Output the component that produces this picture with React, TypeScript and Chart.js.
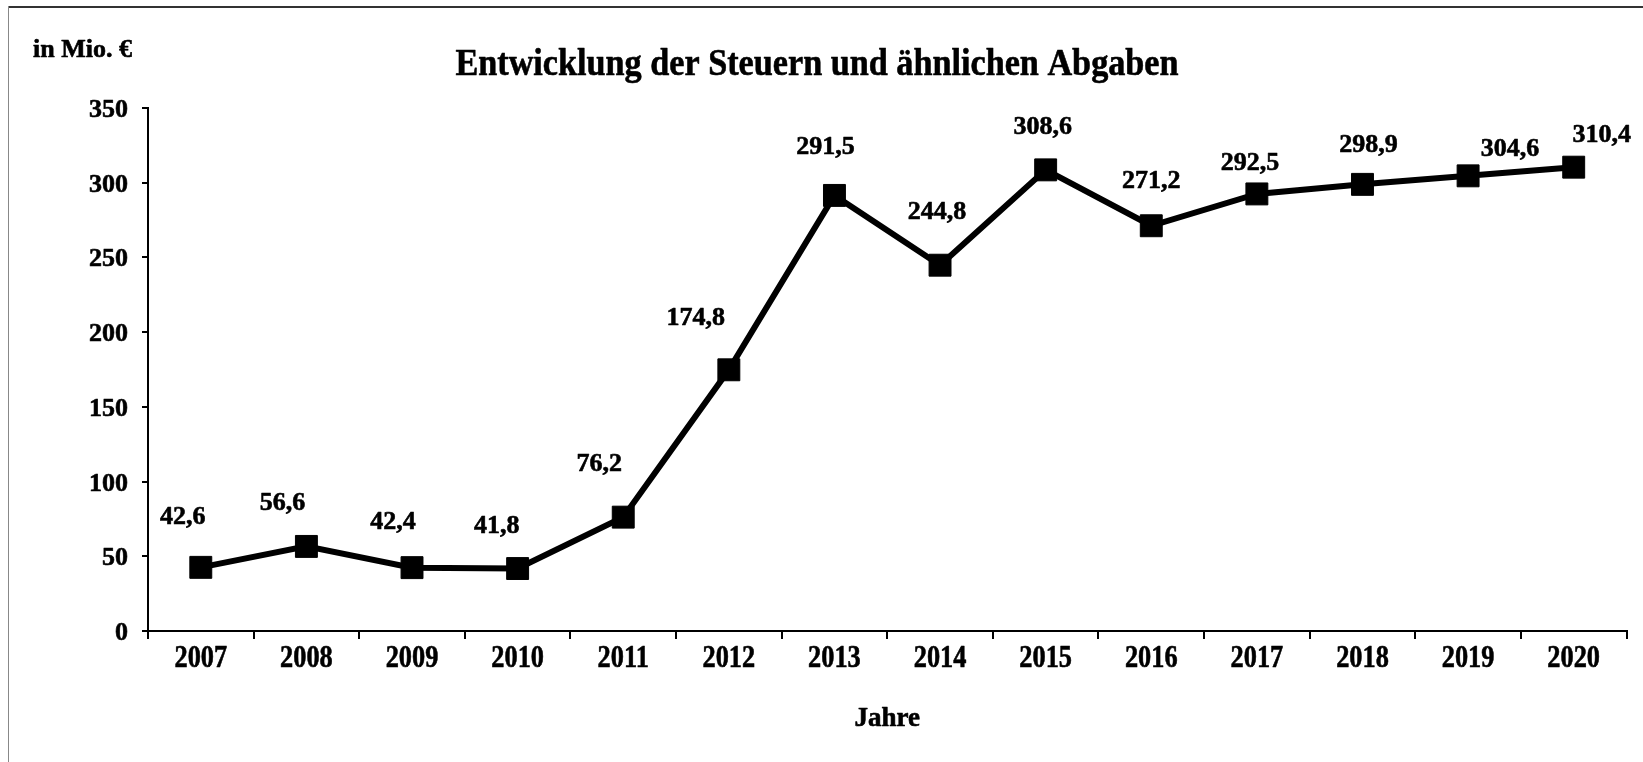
import React, { useEffect, useRef } from "react";
import { Chart, registerables } from "chart.js";

Chart.register(...registerables);

const years: string[] = ["2007", "2008", "2009", "2010", "2011", "2012", "2013", "2014", "2015", "2016", "2017", "2018", "2019", "2020"];
const taxes: number[] = [42.6, 56.6, 42.4, 41.8, 76.2, 174.8, 291.5, 244.8, 308.6, 271.2, 292.5, 298.9, 304.6, 310.4];
const yTicks: number[] = [0, 50, 100, 150, 200, 250, 300, 350];
const titleText = "Entwicklung der Steuern und ähnlichen Abgaben";
const unitText = "in Mio. €";
const xTitleText = "Jahre";

// label nudges (style): [dx, dy] relative to the point centre
const labelNudge: [number, number][] = [
  [-18, -52], [-24, -45], [-19, -48], [-21, -45], [-24, -55], [-33, -54], [-9, -50],
  [-3, -55], [-3, -45], [0, -47], [-7, -33], [6, -41], [42, -29], [28, -34],
];

const FONT = "'Liberation Serif', 'Times New Roman', serif";

const fmt = (v: number) => v.toFixed(1).replace(".", ",");

function heavyText(ctx: CanvasRenderingContext2D, text: string, x: number, y: number) {
  ctx.fillText(text, x, y);
  ctx.strokeText(text, x, y);
}

const decorPlugin = {
  id: "decor",
  afterDraw(chart: any) {
    const ctx = chart.ctx as CanvasRenderingContext2D;
    const xScale = chart.scales.x;
    const yScale = chart.scales.y;
    const area = chart.chartArea;
    ctx.save();
    // frame
    ctx.fillStyle = "#333";
    ctx.fillRect(8, 6, chart.width - 8, 2);
    ctx.fillStyle = "#888";
    ctx.fillRect(8, 6, 1, chart.height - 6);

    ctx.fillStyle = "#000";
    ctx.strokeStyle = "#000";
    ctx.lineWidth = 0.6;
    ctx.lineJoin = "round";
    // title (condensed)
    ctx.font = `bold 38px ${FONT}`;
    ctx.textAlign = "center";
    ctx.textBaseline = "alphabetic";
    ctx.save();
    ctx.translate(817, 75);
    ctx.scale(0.9, 1);
    heavyText(ctx, titleText, 0, 0);
    ctx.restore();

    // unit label
    ctx.font = `bold 26px ${FONT}`;
    ctx.textAlign = "left";
    heavyText(ctx, unitText, 33, 57);

    // y tick labels
    ctx.font = `bold 26px ${FONT}`;
    ctx.textAlign = "right";
    yTicks.forEach((v) => {
      const y = yScale.getPixelForValue(v);
      heavyText(ctx, String(v), area.left - 20, y + 9);
    });

    // x tick labels (condensed)
    ctx.font = `bold 31px ${FONT}`;
    ctx.textAlign = "center";
    years.forEach((yr, i) => {
      const x = xScale.getPixelForValue(i);
      ctx.save();
      ctx.translate(x, area.bottom + 36);
      ctx.scale(0.85, 1);
      heavyText(ctx, yr, 0, 0);
      ctx.restore();
    });

    // x axis title
    ctx.font = `bold 27px ${FONT}`;
    heavyText(ctx, xTitleText, (area.left + area.right) / 2, area.bottom + 95);

    // data labels
    const meta = chart.getDatasetMeta(0);
    ctx.font = `bold 26px ${FONT}`;
    meta.data.forEach((pt: any, i: number) => {
      const [dx, dy] = labelNudge[i];
      heavyText(ctx, fmt(taxes[i]), pt.x + dx, pt.y + dy + 9);
    });
    ctx.restore();
  },
};

export default function App() {
  const ref = useRef<HTMLCanvasElement | null>(null);
  useEffect(() => {
    if (!ref.current) return;
    const chart = new Chart(ref.current, {
      type: "line",
      data: {
        labels: years,
        datasets: [
          {
            data: taxes,
            borderColor: "#000",
            backgroundColor: "#000",
            borderWidth: 6,
            pointStyle: "rect",
            pointRadius: 15.5,
            pointBorderWidth: 1,
            pointBackgroundColor: "#000",
            pointBorderColor: "#000",
            tension: 0,
            clip: false as any,
          },
        ],
      },
      options: {
        responsive: false,
        animation: false,
        layout: { padding: { top: 108, right: 16, left: 0, bottom: 0 } },
        plugins: {
          legend: { display: false },
          tooltip: { enabled: false },
          title: { display: false },
        },
        scales: {
          x: {
            offset: true,
            afterFit: (s: any) => {
              s.height = 131;
            },
            grid: {
              offset: true,
              drawOnChartArea: false,
              drawTicks: true,
              tickLength: 8,
              color: "#000",
              lineWidth: 2,
            },
            border: { display: true, color: "#000", width: 2 },
            ticks: { display: false },
          },
          y: {
            min: 0,
            max: 350,
            afterFit: (s: any) => {
              s.width = 148;
            },
            afterBuildTicks: (s: any) => {
              s.ticks = yTicks.map((v) => ({ value: v }));
            },
            grid: {
              drawOnChartArea: false,
              drawTicks: true,
              tickLength: 6,
              color: "#000",
              lineWidth: 2,
            },
            border: { display: true, color: "#000", width: 2 },
            ticks: { display: false },
          },
        },
      },
      plugins: [decorPlugin],
    });
    return () => chart.destroy();
  }, []);
  return (
    <div style={{ position: "fixed", left: 0, top: 0, width: 1643, height: 762, background: "#fff" }}>
      <canvas ref={ref} width={1643} height={762} style={{ display: "block" }} />
    </div>
  );
}
